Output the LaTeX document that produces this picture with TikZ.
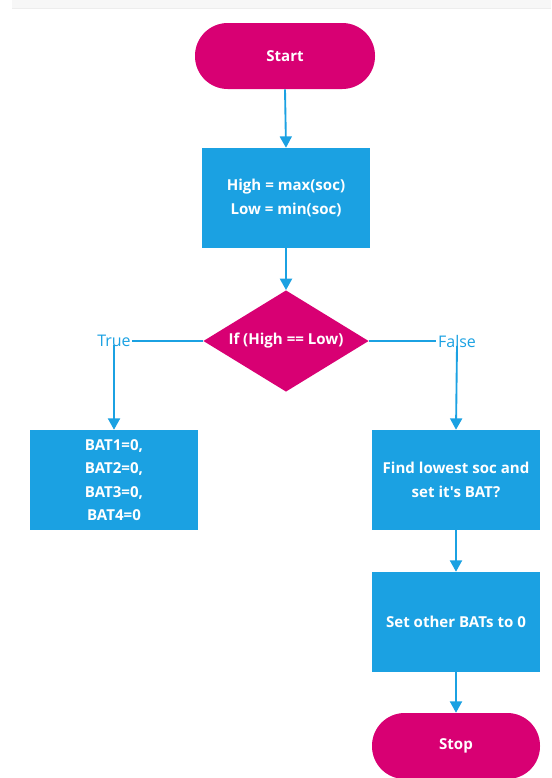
\documentclass[tikz,border=0pt]{standalone}
\usepackage{fontspec}
\setmainfont{Open Sans}[Ligatures=TeXOff]
\usetikzlibrary{arrows.meta,shapes.geometric}
\definecolor{mag}{HTML}{D80073}
\definecolor{blu}{HTML}{1BA1E2}
\begin{document}
\begin{tikzpicture}[x=0.75pt,y=-0.75pt,
  lbl/.style={font=\bfseries\fontsize{11.3}{17.5}\selectfont, text=white, align=center},
  term/.style={lbl, rectangle, rounded corners=24.5pt, fill=mag, minimum height=49.5pt, inner sep=0pt},
  proc/.style={lbl, rectangle, fill=blu, minimum width=126pt, minimum height=75pt, inner sep=0pt},
  decision/.style={lbl, diamond, fill=mag, minimum width=124pt, minimum height=76pt, inner sep=0pt, shape aspect=1.65},
  branch/.style={text=blu, font=\fontsize{12}{14}\selectfont, inner sep=1pt},
  conn/.style={draw=blu, line width=1.4pt},
  arr/.style={conn, -{Triangle[width=9pt,length=8.5pt]}}
]
\useasboundingbox (0,0) rectangle (551,778);
\fill[gray!6] (12,0) rectangle (551,8);
\draw[gray!14, line width=0.6pt] (12,8.5) -- (551,8.5);

\node[term, minimum width=135pt] (start) at (285,56) {Start};
\node[proc] (calc) at (286,198) {High = max(soc)\\Low = min(soc)};
\node[decision] (dec) at (286,341) {If (High == Low)};
\node[branch] (true) at (114,341) {True};
\node[branch] (false) at (457,341) {False};
\node[proc] (bat) at (114,480) {BAT1=0,\\BAT2=0,\\BAT3=0,\\BAT4=0};
\node[proc] (find) at (456,480) {Find lowest soc and\\set it's BAT?};
\node[proc] (other) at (456,622) {Set other BATs to 0};
\node[term, minimum width=126pt] (stop) at (456,746) {Stop};

\draw[arr] (start.south) -- (calc.north);
\draw[arr] (calc.south) -- (dec.north);
\draw[conn] (dec.west) -- (true.east);
\draw[conn] (dec.east) -- (false.west);
\draw[arr] (true.south) ++(0,-3) -- (bat.north);
\draw[arr] (false.south) ++(0,-3) -- (find.north);
\draw[arr] (find.south) -- (other.north);
\draw[arr] (other.south) -- (stop.north);
\end{tikzpicture}
\end{document}
